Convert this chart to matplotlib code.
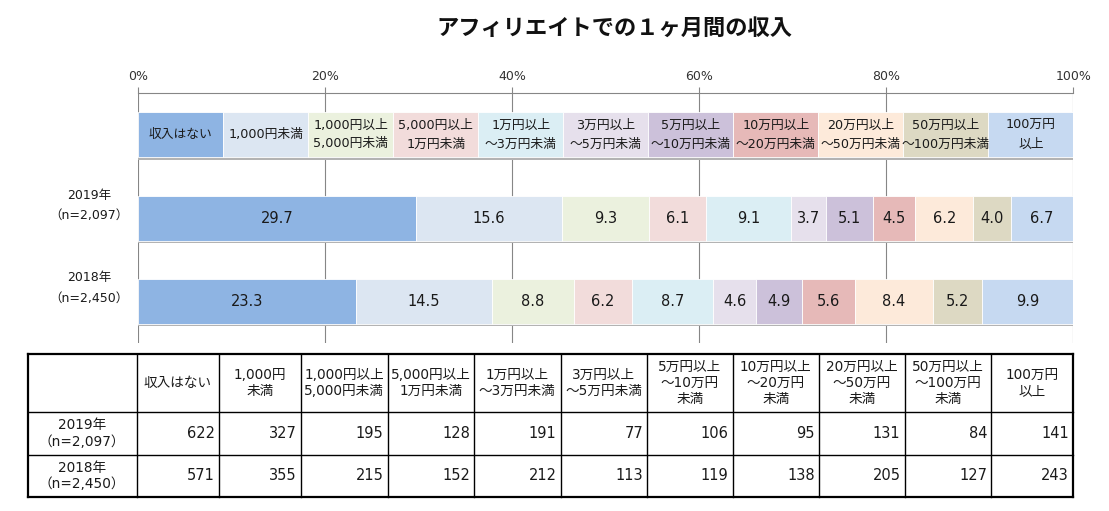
import matplotlib
matplotlib.use("Agg")
import matplotlib.pyplot as plt
import numpy as np

plt.rcParams['font.family'] = ['DejaVu Sans', 'Noto Sans CJK JP']

title = "アフィリエイトでの１ヶ月間の収入"
legend_labels = ["収入はない", "1,000円未満", "1,000円以上\n5,000円未満", "5,000円以上\n1万円未満",
                 "1万円以上\n～3万円未満", "3万円以上\n～5万円未満", "5万円以上\n～10万円未満",
                 "10万円以上\n～20万円未満", "20万円以上\n～50万円未満", "50万円以上\n～100万円未満",
                 "100万円\n以上"]
table_headers = ["収入はない", "1,000円\n未満", "1,000円以上\n5,000円未満", "5,000円以上\n1万円未満",
                 "1万円以上\n～3万円未満", "3万円以上\n～5万円未満", "5万円以上\n～10万円\n未満",
                 "10万円以上\n～20万円\n未満", "20万円以上\n～50万円\n未満", "50万円以上\n～100万円\n未満",
                 "100万円\n以上"]
years = ["2019年", "2018年"]
samples = ["（n=2,097）", "（n=2,450）"]
share_2019 = [29.7, 15.6, 9.3, 6.1, 9.1, 3.7, 5.1, 4.5, 6.2, 4.0, 6.7]
share_2018 = [23.3, 14.5, 8.8, 6.2, 8.7, 4.6, 4.9, 5.6, 8.4, 5.2, 9.9]
count_2019 = [622, 327, 195, 128, 191, 77, 106, 95, 131, 84, 141]
count_2018 = [571, 355, 215, 152, 212, 113, 119, 138, 205, 127, 243]
colors = ["#8eb4e3", "#dce6f2", "#ebf1de", "#f2dcdb", "#dbeef4", "#e6e0ec",
          "#ccc1da", "#e6b9b8", "#fdeada", "#ddd9c3", "#c6d9f1"]

W, H = 1109, 511
fig = plt.figure(figsize=(W / 100, H / 100), dpi=100)

# chart axes
x0, x1, y0, y1 = 138.3, 1073.3, 93, 343
ax = fig.add_axes([x0 / W, 1 - y1 / H, (x1 - x0) / W, (y1 - y0) / H])
ax.set_xlim(0, 100)
ax.set_ylim(2.5, -0.5)
bh = 0.54
gray = "#868686"

n = len(legend_labels)
legend_w = np.full(n, 100.0 / n)
rows = [legend_w, np.array(share_2019), np.array(share_2018)]
for r, vals in enumerate(rows):
    lefts = np.concatenate([[0], np.cumsum(vals)[:-1]])
    # shadow
    ax.barh(r + 0.03, vals, left=lefts, height=bh, color="#b3b3b3", zorder=2, linewidth=0)
    ax.barh(r, vals, left=lefts, height=bh, color=colors, zorder=3,
            edgecolor="white", linewidth=0.6)
    for i, (l, v) in enumerate(zip(lefts, vals)):
        if r == 0:
            ax.text(l + v / 2, r, legend_labels[i], ha="center", va="center",
                    fontsize=9.2, color="#1a1a1a", linespacing=1.55, zorder=4)
        else:
            ax.text(l + v / 2, r, f"{v:.1f}", ha="center", va="center",
                    fontsize=10.5, color="#1a1a1a", zorder=4)

ax.xaxis.tick_top()
ax.set_xticks(np.arange(0, 101, 20))
ax.set_xticklabels([f"{t}%" for t in range(0, 101, 20)])
ax.tick_params(axis="x", direction="out", length=4, width=0.8, color=gray,
               labelsize=9, labelcolor="#333333", pad=3)
ax.set_yticks([])
for s in ["bottom", "left", "right"]:
    ax.spines[s].set_visible(False)
ax.spines["top"].set_color(gray)
ax.spines["top"].set_linewidth(0.8)
ax.grid(axis="x", color=gray, linewidth=0.8, zorder=0)
ax.set_axisbelow(True)

# overlay axes in pixel coordinates
ov = fig.add_axes([0, 0, 1, 1], zorder=-1)
ov.set_xlim(0, W)
ov.set_ylim(H, 0)
ov.axis("off")

ov.text(614, 28, title, ha="center", va="center", fontsize=16, fontweight="bold",
        family=["Noto Sans CJK JP"], color="#111111")

for k, (yr, sm) in enumerate(zip(years, samples)):
    yc = 205 + k * 83
    ov.text(89, yc - 10, yr, ha="center", va="center", fontsize=9, color="#1a1a1a")
    ov.text(89, yc + 10, sm, ha="center", va="center", fontsize=9, color="#1a1a1a")

# table
cols = [27.5, 137, 219, 301, 387.5, 474, 560.5, 647, 732.5, 819, 904.5, 991, 1073]
trs = [354, 412, 455, 497]
for c in cols:
    lw = 1.6 if c in (cols[0], cols[-1]) else 1.0
    ov.plot([c, c], [trs[0], trs[-1]], color="black", linewidth=lw)
for rr in trs:
    lw = 1.6 if rr in (trs[0], trs[-1]) else 1.0
    ov.plot([cols[0], cols[-1]], [rr, rr], color="black", linewidth=lw)

for i, hd in enumerate(table_headers):
    cx = (cols[i + 1] + cols[i + 2]) / 2
    ov.text(cx, (trs[0] + trs[1]) / 2, hd, ha="center", va="center", fontsize=9.8,
            color="#1a1a1a", linespacing=1.15)

for k, (yr, sm, counts) in enumerate(zip(years, samples, [count_2019, count_2018])):
    yc = (trs[k + 1] + trs[k + 2]) / 2
    ov.text((cols[0] + cols[1]) / 2, yc, yr + "\n" + sm, ha="center", va="center",
            fontsize=9.8, color="#1a1a1a", linespacing=1.2)
    for i, v in enumerate(counts):
        ov.text(cols[i + 2] - 4, yc, f"{v}", ha="right", va="center", fontsize=10.5,
                color="#1a1a1a")

fig.savefig("out.png", dpi=100, facecolor="white")
